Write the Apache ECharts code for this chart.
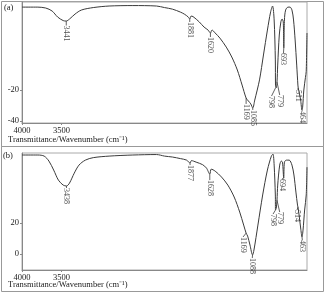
<!DOCTYPE html>
<html><head><meta charset="utf-8">
<script src="https://cdn.jsdelivr.net/npm/echarts@6/dist/echarts.min.js"></script>
<style>html,body{margin:0;padding:0;background:#fff}#c{width:326px;height:294px}</style>
</head><body><div id="c"></div>
<script>
// ---- Data (wavenumber cm-1, transmittance) ----
var specA_wn = [4000,3800,3700,3620,3550,3480,3441,3400,3330,3250,3100,2900,2600,2300,2200,2100,2000,1950,1900,1881,1865,1840,1760,1700,1650,1620,1600,1560,1500,1420,1350,1280,1220,1169,1140,1110,1085,1060,1000,950,900,860,835,815,800,798,790,779,770,750,730,715,700,693,685,670,640,615,590,570,550,530,515,511,500,480,464,455,440,420,410,400];
var specA_t  = [33.5,33.5,32.9,31,27.1,24.8,24.5,25.8,29,31.6,33.2,34.2,34.5,34.2,33.2,32.2,30.3,29,27.1,25.8,27.7,27.4,23.9,20.6,18.7,16.8,18.7,16.8,13.5,7.7,1.3,-7.1,-16.8,-25.2,-27.1,-29,-31.6,-26.5,-13.5,2.6,18.7,30.3,34.2,25.2,-0.6,-16.8,-18.7,-14.8,-3.9,15.5,24,25.8,24,7.1,25.2,31.6,33.5,33.5,31.6,25.2,12.3,-3.9,-16.8,-18.7,-21.3,-26.5,-32.9,-31,-20,-12,-8,16.8];
var specB_wn = [4000,3800,3720,3660,3600,3540,3480,3438,3400,3340,3280,3200,3100,2900,2600,2300,2200,2100,2000,1920,1877,1860,1800,1720,1670,1628,1610,1560,1480,1400,1320,1250,1200,1169,1150,1120,1088,1070,1020,960,900,850,830,815,800,798,788,779,770,745,725,710,694,685,660,625,590,565,540,520,514,500,480,463,450,430,410,400];
var specB_t  = [63.9,63.9,63.2,60,54.2,47.7,44.5,43.9,45.8,52.2,57.4,60.6,62.2,63.2,63.9,64.2,63.2,62.6,61.6,60.6,58.7,60.3,59.3,57.7,55.5,51.6,54.8,53.5,49.7,44.5,36.8,27.1,18.7,13.5,11.6,5.8,-0.6,2.6,18.7,38.1,54.2,63.2,64.5,57.4,38.1,28.4,29.7,34.8,44.5,57.4,60,59.3,49,59.3,60.6,60.6,57.4,51,40,31.6,30.3,25.2,16.8,11,15.5,28.4,38.1,56.1];

// peak labels: text, curve point (wn, t), label anchor (wn, t)
var peaksA_text = ["3441","1881","1620","1169","1085","798","779","693","511","464"];
var peaksA_wn   = [3441,1881,1620,1169,1085,798,779,693,511,464];
var peaksA_t    = [24.5,25.8,16.8,-25.2,-31.6,-18.7,-14.8,7.1,-18.7,-32.9];
var peaksA_lx   = [3441,1881,1620,1169,1085,848,745,697,514,460];
var peaksA_ly   = [21.6,23.9,14.2,-29,-32.9,-23.9,-23.2,3.9,-20,-33.5];

var peaksB_text = ["3438","1877","1628","1169","1088","798","779","694","514","463"];
var peaksB_wn   = [3438,1877,1628,1169,1088,798,779,694,514,463];
var peaksB_t    = [43.9,58.7,51.6,13.5,-0.6,28.4,34.8,49,30.3,11];
var peaksB_lx   = [3438,1877,1628,1208,1091,829,745,716,526,459];
var peaksB_ly   = [42.6,57.4,47.7,11,-2.6,25.8,27.1,48.4,28.4,9.0];

var xTicks = [4000,3500];
var yTicksA = [-20,-40];
var yTicksB = [20,0];

// ---- build ----
function zip(a,b){var r=[];for(var i=0;i<a.length;i++)r.push([a[i],b[i]]);return r;}
function labelPts(txt,lx,ly){var r=[];for(var i=0;i<txt.length;i++)r.push({name:txt[i],value:[lx[i],ly[i]]});return r;}

var serif = "'Liberation Serif','Times New Roman',serif";
var chart = echarts.init(document.getElementById('c'), null, {renderer:'canvas'});

function xAx(idx){
  return {type:'value',gridIndex:idx,inverse:true,min:400,max:4000,
    axisLine:{show:true,onZero:false,lineStyle:{color:'#888',width:1}},
    axisTick:{show:true,length:2,customValues:xTicks,lineStyle:{color:'#888'}},
    axisLabel:{show:true,customValues:xTicks,formatter:function(v){return String(v);},fontFamily:serif,fontSize:8.5,color:'#222',margin:3},
    splitLine:{show:false}};
}
function yAx(idx,min,max,ticks){
  return {type:'value',gridIndex:idx,min:min,max:max,
    axisLine:{show:true,onZero:false,lineStyle:{color:'#888',width:1}},
    axisTick:{show:true,length:2,customValues:ticks,lineStyle:{color:'#888'}},
    axisLabel:{show:true,customValues:ticks,formatter:function(v){return String(v);},fontFamily:serif,fontSize:8.5,color:'#222',margin:3},
    splitLine:{show:false}};
}
function specSeries(idx,data){
  return {type:'line',xAxisIndex:idx,yAxisIndex:idx,data:data,showSymbol:false,smooth:0.3,
    lineStyle:{color:'#3a3a3a',width:1},silent:true,z:3};
}
function leaderSeriesList(idx,wn,t,lx,ly){
  var out=[];
  for(var i=0;i<wn.length;i++){
    out.push({type:'line',xAxisIndex:idx,yAxisIndex:idx,data:[[wn[i],t[i]],[lx[i],ly[i]]],showSymbol:false,
      lineStyle:{color:'#3a3a3a',width:0.8},silent:true,z:3});
  }
  return out;
}
function labelSeries(idx,data){
  return {type:'scatter',xAxisIndex:idx,yAxisIndex:idx,data:data,symbolSize:1,silent:true,z:4,
    itemStyle:{color:'rgba(0,0,0,0)'},
    label:{show:true,formatter:'{b}',position:'inside',rotate:-90,align:'left',verticalAlign:'middle',
      fontFamily:serif,fontSize:8,color:'#222'}};
}

var series = [specSeries(0,zip(specA_wn,specA_t)), labelSeries(0,labelPts(peaksA_text,peaksA_lx,peaksA_ly)),
              specSeries(1,zip(specB_wn,specB_t)), labelSeries(1,labelPts(peaksB_text,peaksB_lx,peaksB_ly))];
series = series.concat(leaderSeriesList(0,peaksA_wn,peaksA_t,peaksA_lx,peaksA_ly))
               .concat(leaderSeriesList(1,peaksB_wn,peaksB_t,peaksB_lx,peaksB_ly));

chart.setOption({
  animation:false,
  grid:[
    {left:22,top:2,width:285,height:121,show:true,borderColor:'#aaa',borderWidth:1},
    {left:22,top:153,width:285,height:117,show:true,borderColor:'#aaa',borderWidth:1}
  ],
  xAxis:[xAx(0),xAx(1)],
  yAxis:[yAx(0,-41.3,36.8,yTicksA),yAx(1,-10.3,65.2,yTicksB)],
  series:series,
  graphic:[
    {type:'rect',shape:{x:1.5,y:1.5,width:322,height:145},style:{fill:'none',stroke:'#999',lineWidth:1},z:-1},
    {type:'rect',shape:{x:1.5,y:146.5,width:322,height:145},style:{fill:'none',stroke:'#999',lineWidth:1},z:-1},
    {type:'text',x:4,y:8,style:{text:'(a)',fontFamily:serif,fontSize:8.5,fill:'#222',verticalAlign:'middle'}},
    {type:'text',x:3,y:156,style:{text:'(b)',fontFamily:serif,fontSize:8.5,fill:'#222',verticalAlign:'middle'}},
    {type:'text',x:8,y:140,style:{text:'Transmittance/Wavenumber (cm\u207B\u00B9)',fontFamily:serif,fontSize:8.5,fill:'#222',verticalAlign:'middle'}},
    {type:'text',x:8,y:285,style:{text:'Transmittance/Wavenumber (cm\u207B\u00B9)',fontFamily:serif,fontSize:8.5,fill:'#222',verticalAlign:'middle'}}
  ]
});
</script></body></html>
